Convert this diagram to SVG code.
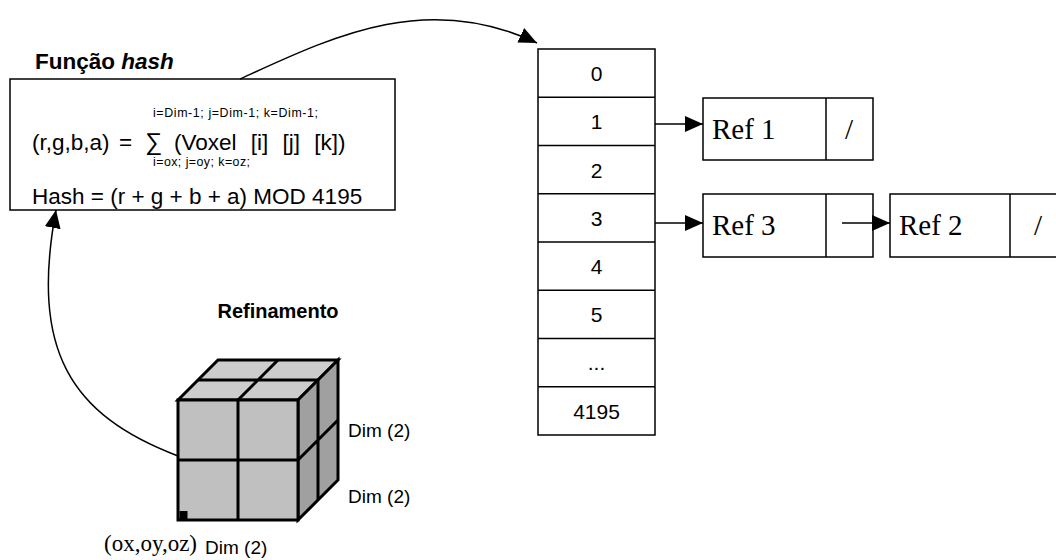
<svg xmlns="http://www.w3.org/2000/svg" width="1056" height="560" viewBox="0 0 1056 560">
  <style>
    .sans { font-family: "Liberation Sans", Arial, sans-serif; fill: #000; }
    .serif { font-family: "Liberation Serif", "Times New Roman", serif; fill: #000; }
    .box { fill: #fff; stroke: #000; stroke-width: 1.5; }
    .wire { fill: none; stroke: #000; stroke-width: 1.5; }
    .edge { stroke: #000; stroke-width: 3; stroke-linejoin: miter; }
    .cell { font-size: 21px; text-anchor: middle; }
    .ref { font-size: 29px; }
    .dim { font-size: 19px; }
    .small { font-size: 12.4px; }
    .formula { font-size: 22.5px; }
  </style>
  <defs>
    <marker id="head" markerUnits="userSpaceOnUse" markerWidth="20" markerHeight="18" refX="18" refY="8" orient="auto">
      <path d="M0,0 L18,8 L0,16 Z" fill="#000"/>
    </marker>
  </defs>

  <rect width="1056" height="560" fill="#fff"/>

  <!-- hash function box -->
  <g id="hash-function">
    <text class="sans" x="35" y="69" font-size="22.5" font-weight="bold">Função <tspan font-style="italic">hash</tspan></text>
    <rect class="box" x="10" y="79" width="385" height="131"/>
    <text class="sans small" x="153" y="117" textLength="165" lengthAdjust="spacing">i=Dim-1; j=Dim-1; k=Dim-1;</text>
    <g class="sans formula">
      <text x="32" y="150">(r,g,b,a)</text>
      <text x="119" y="150">=</text>
      <text x="145" y="150" font-size="24">∑</text>
      <text x="174" y="150" word-spacing="8">(Voxel [i] [j] [k])</text>
    </g>
    <text class="sans small" x="153" y="166" textLength="97" lengthAdjust="spacing">i=ox; j=oy; k=oz;</text>
    <text class="sans formula" x="32" y="204">Hash = (r + g + b + a) MOD 4195</text>
  </g>

  <!-- hash table -->
  <g id="hash-table">
    <rect class="box" x="538" y="49" width="117" height="386"/>
    <path class="wire" d="M538,97.25H655M538,145.5H655M538,193.75H655M538,242H655M538,290.25H655M538,338.5H655M538,386.75H655"/>
    <text class="sans cell" x="596.5" y="81">0</text>
    <text class="sans cell" x="596.5" y="129">1</text>
    <text class="sans cell" x="596.5" y="178">2</text>
    <text class="sans cell" x="596.5" y="226">3</text>
    <text class="sans cell" x="596.5" y="274">4</text>
    <text class="sans cell" x="596.5" y="322">5</text>
    <text class="sans cell" x="596.5" y="370">...</text>
    <text class="sans cell" x="596.5" y="419">4195</text>
  </g>

  <!-- list node: Ref 1 -->
  <g id="node-ref1">
    <rect class="box" x="703" y="98" width="170" height="62"/>
    <line class="wire" x1="826" y1="98" x2="826" y2="160"/>
    <text class="serif ref" x="712" y="139">Ref 1</text>
    <text class="serif ref" x="849" y="139" text-anchor="middle">/</text>
  </g>

  <!-- list node: Ref 3 -->
  <g id="node-ref3">
    <rect class="box" x="703" y="194" width="170" height="63"/>
    <line class="wire" x1="826" y1="194" x2="826" y2="257"/>
    <text class="serif ref" x="712" y="235">Ref 3</text>
  </g>

  <!-- list node: Ref 2 -->
  <g id="node-ref2">
    <rect class="box" x="890" y="194" width="180" height="63"/>
    <line class="wire" x1="1010" y1="194" x2="1010" y2="257"/>
    <text class="serif ref" x="899" y="235">Ref 2</text>
    <text class="serif ref" x="1038" y="235" text-anchor="middle">/</text>
  </g>

  <!-- refinement cube -->
  <g id="cube">
    <text class="sans" x="278" y="318" font-size="20" font-weight="bold" text-anchor="middle">Refinamento</text>
    <polygon points="178,400 218,360 338,360 298,400" fill="#cccccc" class="edge"/>
    <polygon points="298,400 338,360 338,480 298,520" fill="#a0a0a0" class="edge"/>
    <rect x="178" y="400" width="120" height="120" fill="#c0c0c0" class="edge"/>
    <path class="edge" fill="none" d="M238,400V520M178,460H298M198,380H318M238,400L278,360M318,380V500M298,460L338,420"/>
    <rect x="179.5" y="511" width="8" height="8" fill="#000"/>
    <text class="sans dim" x="348" y="437">Dim (2)</text>
    <text class="sans dim" x="348" y="503">Dim (2)</text>
    <text class="sans dim" x="205" y="554">Dim (2)</text>
    <text class="serif" x="104" y="551" font-size="23">(ox,oy,oz)</text>
  </g>

  <!-- connectors -->
  <g id="connectors">
    <path class="wire" d="M240,79 C330,38 425,-10 537,43" marker-end="url(#head)"/>
    <path class="wire" d="M178,456 C70,415 30,350 56,210" marker-end="url(#head)"/>
    <line class="wire" x1="655" y1="124" x2="703" y2="124" marker-end="url(#head)"/>
    <line class="wire" x1="655" y1="223" x2="703" y2="223" marker-end="url(#head)"/>
    <line class="wire" x1="842" y1="223" x2="890" y2="223" marker-end="url(#head)"/>
  </g>
</svg>
